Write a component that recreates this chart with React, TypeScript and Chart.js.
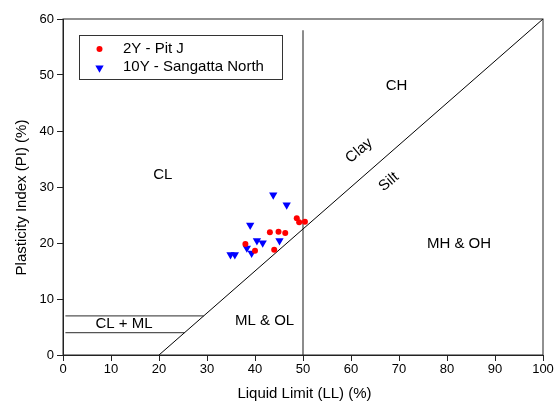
import React, { useEffect, useRef } from "react";
import { Chart, registerables } from "chart.js";

Chart.register(...registerables);

// Series: Liquid Limit (LL) vs Plasticity Index (PI)
const pitJ_LL = [48.7, 49.2, 50.4, 43.1, 44.9, 46.3, 38.0, 40.0, 44.0];
const pitJ_PI = [24.4, 23.7, 23.8, 21.9, 22.0, 21.8, 19.8, 18.6, 18.8];

const sangatta_LL = [43.8, 46.6, 39.0, 40.4, 41.6, 45.1, 38.3, 39.3, 34.9, 35.8];
const sangatta_PI = [28.6, 26.8, 23.2, 20.4, 20.0, 20.4, 19.1, 18.2, 17.9, 17.9];

// Reference lines of the plasticity chart
const aLine_LL = [20, 100];
const aLine_PI = [0, 60];
const llDivide_LL = [50, 50];
const llDivide_PI = [0, 58];
const clml7_LL = [0.5, 29.3];
const clml7_PI = [7, 7];
const clml4_LL = [0.5, 25.3];
const clml4_PI = [4, 4];

const xTicks = [0, 10, 20, 30, 40, 50, 60, 70, 80, 90, 100];
const yTicks = [0, 10, 20, 30, 40, 50, 60];

const zoneLabels = ["CL", "CH", "MH & OH", "ML & OL", "CL + ML", "Clay", "Silt"];
const zoneLL = [20.8, 69.5, 82.5, 42.0, 12.7, 61.7, 67.9];
const zonePI = [32.1, 48.1, 19.85, 6.1, 5.5, 36.5, 30.9];
const zoneRot = [0, 0, 0, 0, 0, -40, -40];

const seriesNames = ["2Y - Pit J", "10Y - Sangatta North"];
const xTitle = "Liquid Limit (LL) (%)";
const yTitle = "Plasticity Index (PI) (%)";

const pts = (xs: number[], ys: number[]) => xs.map((x, i) => ({ x, y: ys[i] }));

const FONT = "'Liberation Sans', Arial, sans-serif";

export default function App() {
  const ref = useRef<HTMLCanvasElement | null>(null);

  useEffect(() => {
    document.body.style.margin = "0";
    const canvas = ref.current;
    if (!canvas) return;

    const overlay = {
      id: "overlay",
      afterDatasetsDraw(chart: any) {
        const { ctx, chartArea, scales } = chart;
        const xs = scales.x;
        const ys = scales.y;
        ctx.save();
        // plot frame
        ctx.strokeStyle = "#222";
        ctx.lineWidth = 1;
        ctx.strokeRect(chartArea.left, chartArea.top, chartArea.right - chartArea.left, chartArea.bottom - chartArea.top);
        // zone labels
        ctx.fillStyle = "#000";
        ctx.font = `15px ${FONT}`;
        ctx.textAlign = "center";
        ctx.textBaseline = "middle";
        zoneLabels.forEach((t, i) => {
          const px = xs.getPixelForValue(zoneLL[i]);
          const py = ys.getPixelForValue(zonePI[i]);
          ctx.save();
          ctx.translate(px, py);
          ctx.rotate((zoneRot[i] * Math.PI) / 180);
          ctx.fillText(t, 0, 0);
          ctx.restore();
        });
        // axis titles
        ctx.textBaseline = "alphabetic";
        ctx.textAlign = "center";
        ctx.fillText(xTitle, (chartArea.left + chartArea.right) / 2 + 1.5, chartArea.bottom + 43);
        ctx.save();
        ctx.translate(26, (chartArea.top + chartArea.bottom) / 2 + 10.5);
        ctx.rotate(-Math.PI / 2);
        ctx.fillText(yTitle, 0, 0);
        ctx.restore();
        // legend
        const lx = chartArea.left + 16;
        const ly = chartArea.top + 16;
        ctx.strokeStyle = "#333";
        ctx.lineWidth = 1;
        ctx.strokeRect(lx + 0.5, ly + 0.5, 203, 44);
        ctx.fillStyle = "#ff0000";
        ctx.beginPath();
        ctx.arc(lx + 20.5, ly + 14, 3, 0, Math.PI * 2);
        ctx.fill();
        ctx.fillStyle = "#0000ff";
        const tx = lx + 20.5;
        const tyc = ly + 33;
        const r = 4.8;
        ctx.beginPath();
        ctx.moveTo(tx, tyc + r);
        ctx.lineTo(tx - r * 0.866, tyc - r * 0.5);
        ctx.lineTo(tx + r * 0.866, tyc - r * 0.5);
        ctx.closePath();
        ctx.fill();
        ctx.fillStyle = "#000";
        ctx.textAlign = "left";
        ctx.textBaseline = "middle";
        ctx.font = `15px ${FONT}`;
        ctx.fillText(seriesNames[0], lx + 44, ly + 13.5);
        ctx.fillText(seriesNames[1], lx + 44, ly + 31.5);
        ctx.restore();
      },
    };

    const lineDs = (xs: number[], ys: number[], color: string, w: number) => ({
      type: "line" as const,
      data: pts(xs, ys),
      borderColor: color,
      borderWidth: w,
      pointRadius: 0,
      showLine: true,
      fill: false,
      order: 5,
    });

    const chart = new Chart(canvas, {
      type: "scatter",
      data: {
        datasets: [
          lineDs(aLine_LL, aLine_PI, "#000", 1),
          lineDs(llDivide_LL, llDivide_PI, "#666", 1.5),
          lineDs(clml7_LL, clml7_PI, "#555", 1.2),
          lineDs(clml4_LL, clml4_PI, "#555", 1.2),
          {
            label: seriesNames[0],
            data: pts(pitJ_LL, pitJ_PI),
            backgroundColor: "#ff0000",
            borderColor: "#ff0000",
            pointRadius: 3,
            pointStyle: "circle",
            borderWidth: 0,
            order: 1,
          },
          {
            label: seriesNames[1],
            data: pts(sangatta_LL, sangatta_PI),
            backgroundColor: "#0000ff",
            borderColor: "#0000ff",
            pointRadius: 4.8,
            pointStyle: "triangle",
            rotation: 180,
            borderWidth: 0,
            order: 2,
          },
        ] as any,
      },
      options: {
        responsive: false,
        animation: false,
        devicePixelRatio: 1,
        layout: { padding: { top: 19, right: 17, left: 0, bottom: 0 } },
        plugins: { legend: { display: false }, tooltip: { enabled: false } },
        scales: {
          x: {
            type: "linear",
            min: 0,
            max: 100,
            afterFit: (s: any) => { s.height = 48; },
            afterBuildTicks: (s: any) => { s.ticks = xTicks.map((v) => ({ value: v })); },
            grid: { display: true, drawOnChartArea: false, drawTicks: true, tickLength: 6, color: "#222" },
            border: { display: true, color: "#222" },
            ticks: { color: "#000", font: { family: FONT, size: 13 }, padding: 1, maxRotation: 0 },
            title: { display: false },
          },
          y: {
            type: "linear",
            min: 0,
            max: 60,
            afterFit: (s: any) => { s.width = 63; },
            afterBuildTicks: (s: any) => { s.ticks = yTicks.map((v) => ({ value: v })); },
            grid: { display: true, drawOnChartArea: false, drawTicks: true, tickLength: 6, color: "#222" },
            border: { display: true, color: "#222" },
            ticks: { color: "#000", font: { family: FONT, size: 13 }, padding: 3 },
            title: { display: false },
          },
        },
      },
      plugins: [overlay],
    });

    return () => chart.destroy();
  }, []);

  return (
    <div style={{ width: 560, height: 403 }}>
      <canvas ref={ref} width={560} height={403} style={{ display: "block", width: 560, height: 403 }} />
    </div>
  );
}
